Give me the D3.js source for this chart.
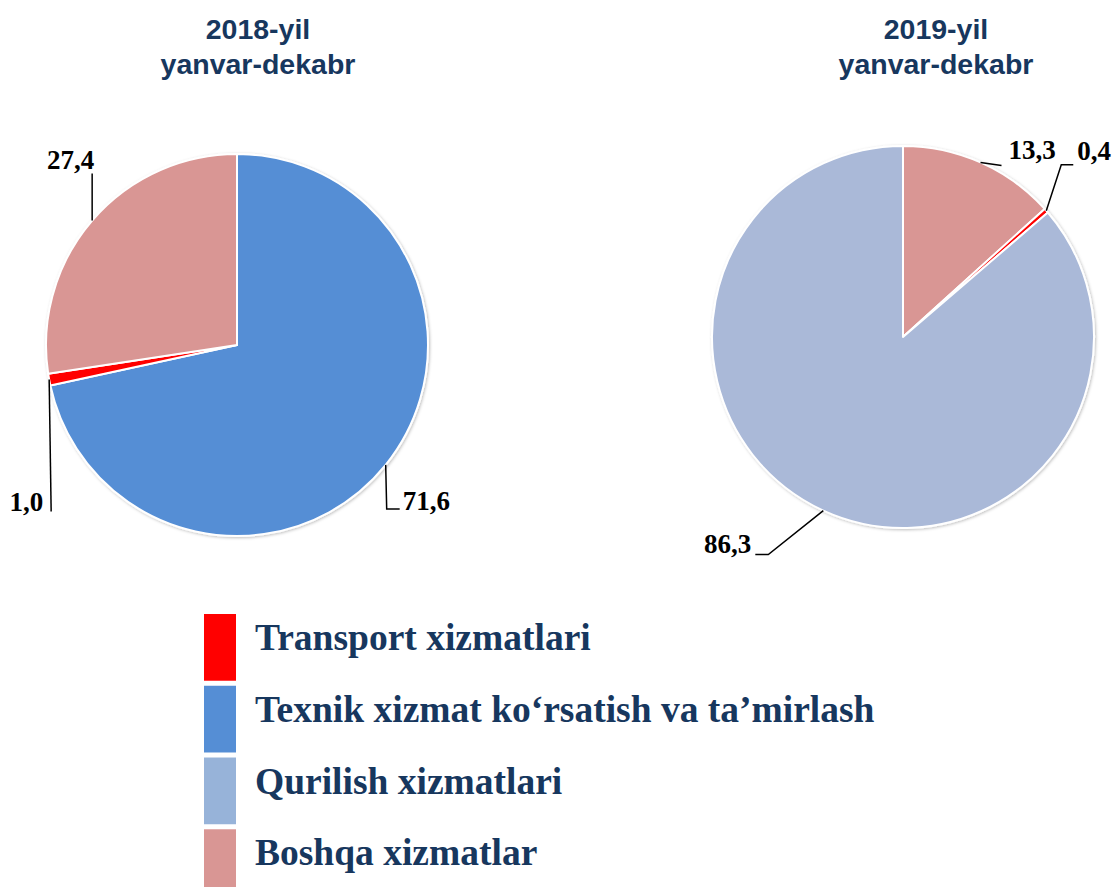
<!DOCTYPE html>
<html><head><meta charset="utf-8">
<script src="https://cdn.jsdelivr.net/npm/d3@7"></script>
<style>body{margin:0;background:#fff}svg{display:block}</style>
</head><body>
<script>
// ---- data ----
const categories = ["Transport xizmatlari", "Texnik xizmat ko‘rsatish va ta’mirlash", "Qurilish xizmatlari", "Boshqa xizmatlar"];
const titles2018 = ["2018-yil", "yanvar-dekabr"];
const titles2019 = ["2019-yil", "yanvar-dekabr"];
// slice order as drawn (clockwise from 12 o'clock)
const order2018 = ["Texnik xizmat ko‘rsatish va ta’mirlash", "Transport xizmatlari", "Boshqa xizmatlar"];
const values2018 = [71.6, 1.0, 27.4];
const order2019 = ["Boshqa xizmatlar", "Transport xizmatlari", "Qurilish xizmatlari"];
const values2019 = [13.3, 0.4, 86.3];

// ---- styles ----
const pieColors = {"Transport xizmatlari":"#FF0000","Texnik xizmat ko‘rsatish va ta’mirlash":"#558ED5","Qurilish xizmatlari":"#AAB9D8","Boshqa xizmatlar":"#D99694"};
const legendColors = {"Transport xizmatlari":"#FF0000","Texnik xizmat ko‘rsatish va ta’mirlash":"#558ED5","Qurilish xizmatlari":"#97B3D9","Boshqa xizmatlar":"#D99694"};
const navy = "#17375E";
const W = 1112, H = 887;

const svg = d3.select("body").append("svg").attr("width", W).attr("height", H);
const defs = svg.append("defs");
const f = defs.append("filter").attr("id","sh").attr("x","-10%").attr("y","-10%").attr("width","120%").attr("height","120%");
f.append("feDropShadow").attr("dx",1).attr("dy",1).attr("stdDeviation",1.5).attr("flood-color","#000").attr("flood-opacity",0.25);

const fmt = v => d3.format(".1f")(v).replace(".", ",");

// label leader layouts (offsets relative to slice anchor on the rim), per slice
const layout2018 = [
  {pts:[[0,0],[1,44],[14,44]], text:[17,45], anchor:"start"},
  {pts:[[0,0],[2,132]], text:[-6,131], anchor:"end"},
  {pts:[[0,0],[0,-47]], text:[2,-52], anchor:"end"}
];
const layout2019 = [
  {pts:[[0,0],[21,3]], text:[28,-3], anchor:"start"},
  {pts:[[0,0],[15,-46],[27,-46]], text:[31,-51], anchor:"start"},
  {pts:[[0,0],[-55,44],[-68,44]], text:[-72,42], anchor:"end"}
];

function drawPie(cx, cy, r, names, values, layout, titleLines, tx) {
  const pie = d3.pie().sort(null).value(d => d.v);
  const data = pie(names.map((n,i)=>({n, v:values[i]})));
  const arc = d3.arc().innerRadius(0).outerRadius(r);
  const g = svg.append("g").attr("transform", `translate(${cx},${cy})`);
  g.append("g").attr("filter","url(#sh)").selectAll("path").data(data).join("path")
    .attr("d", arc).attr("fill", d => pieColors[d.data.n])
    .attr("stroke", "#fff").attr("stroke-width", 2).attr("stroke-linejoin","round");
  data.forEach((d,i) => {
    const a = (d.startAngle + d.endAngle)/2;
    const ax = r*Math.sin(a), ay = -r*Math.cos(a);
    const L = layout[i];
    g.append("path").attr("d", d3.line()(L.pts.map(p=>[ax+p[0], ay+p[1]])))
      .attr("fill","none").attr("stroke","#000").attr("stroke-width",1.5);
    g.append("text").attr("x", ax+L.text[0]).attr("y", ay+L.text[1])
      .attr("text-anchor", L.anchor)
      .style("font-family","'Liberation Serif','Times New Roman',serif")
      .style("font-weight","bold").style("font-size","27px").attr("fill","#000")
      .text(fmt(d.data.v));
  });
  const t = svg.append("text").attr("text-anchor","middle")
    .style("font-family","'Liberation Sans',Arial,sans-serif").style("font-weight","bold")
    .style("font-size","28.5px").attr("fill", navy);
  titleLines.forEach((s,i)=> t.append("tspan").attr("x", tx).attr("y", 39 + i*35).text(s));
}

drawPie(237, 345, 191, order2018, values2018, layout2018, titles2018, 258);
drawPie(903, 337, 191, order2019, values2019, layout2019, titles2019, 936);

// legend
const ly = d3.scaleBand().domain(categories).range([614, 896]).paddingInner(0.07);
const lg = svg.append("g");
categories.forEach(c => {
  lg.append("rect").attr("x", 204).attr("y", ly(c)).attr("width", 32).attr("height", ly.bandwidth())
    .attr("fill", legendColors[c]);
  lg.append("text").attr("x", 255).attr("y", ly(c) + 36)
    .style("font-family","'Liberation Serif','Times New Roman',serif")
    .style("font-weight","bold").style("font-size","37.5px").attr("fill", navy).text(c);
});
</script>
</body></html>
